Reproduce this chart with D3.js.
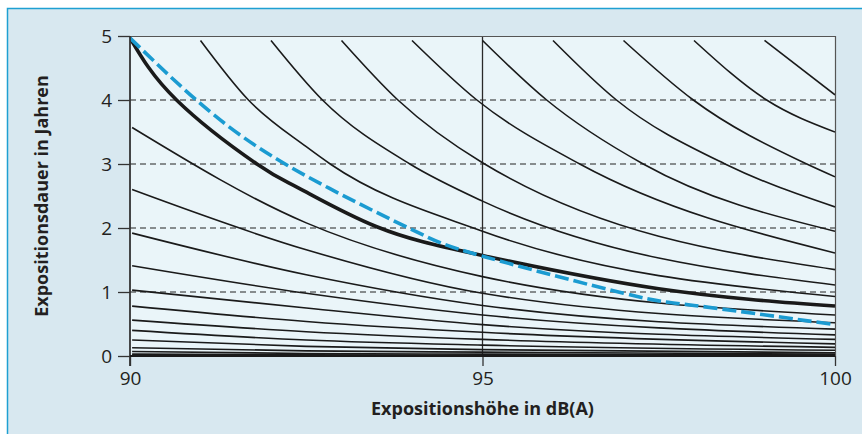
<!DOCTYPE html>
<html>
<head>
<meta charset="utf-8">
<script src="https://cdn.jsdelivr.net/npm/d3@7"></script>
<style>
  body { margin: 0; background: #fff; }
  text { font-family: "Open Sans", "Noto Sans", sans-serif; fill: #231f20; }
  .axis text { font-size: 19px; }
  .axis-title { font-size: 18px; font-weight: bold; }
</style>
</head>
<body>
<div id="chart"></div>
<script>
// x: Expositionshöhe in dB(A), y: Expositionsdauer in Jahren
var x_ticks = [90, 95, 100];
var y_ticks = [0, 1, 2, 3, 4, 5];
var grid_values = [1, 2, 3, 4];

// thick reference curve as [dB, Jahre]
var thick_curve = [[90, 4.97], [90.66, 4], [91.8, 3], [92.4, 2.62], [93.5, 2.02], [95, 1.57], [97.5, 1.05], [100, 0.78]];

// dashed blue curve
var blue_curve = [[90, 4.97], [90.94, 4], [92.2, 3], [93.95, 2], [95, 1.56], [97, 0.98], [98, 0.79], [100, 0.49]];

// thin curves that start at the top edge
var upper_curves = [
  [[91, 4.93], [91.68, 4], [92.5, 3.27], [92.84, 3], [95, 1.95], [100, 0.93]],
  [[92, 4.93], [92.73, 4], [93.97, 3], [95, 2.42], [100, 1.11]],
  [[93, 4.93], [93.8, 4], [95, 3.02], [100, 1.35]],
  [[94, 4.93], [94.92, 4], [96.38, 3], [100, 1.61]],
  [[95, 4.93], [95.91, 4], [97.28, 3], [100, 1.95]],
  [[96, 4.93], [96.9, 4], [98.44, 3], [100, 2.33]],
  [[97, 4.93], [97.99, 4], [99.6, 3], [100, 2.80]],
  [[98, 4.93], [99.03, 4], [100, 3.50]],
  [[99, 4.93], [100, 4.08]]
];

// thin curves that start at the left edge, values at 90 / 92.5 / 95 / 100 dB
var lower_levels = [90.03, 92.5, 95, 100];
var lower_curves = [
  [3.57, 2.08, 1.24, 0.64],
  [2.60, 1.66, 0.98, 0.52],
  [1.92, 1.27, 0.79, 0.42],
  [1.41, 0.98, 0.64, 0.33],
  [1.03, 0.75, 0.49, 0.26],
  [0.78, 0.54, 0.37, 0.19],
  [0.56, 0.38, 0.26, 0.135],
  [0.40, 0.25, 0.17, 0.09],
  [0.25, 0.15, 0.10, 0.05],
  [0.13, 0.08, 0.06, 0.03],
  [0.07, 0.04, 0.03, 0.015],
  [0.03, 0.02, 0.015, 0.008],
  [0.01, 0.005, 0.005, 0.003]
];

var vars = {};
vars.width = 862;
vars.height = 434;
vars.plot = { left: 130, right: 835, top: 36, bottom: 356 };

var svg = d3.select("#chart").append("svg")
  .attr("width", vars.width)
  .attr("height", vars.height);

// panel background with cyan border top and left
svg.append("rect")
  .attr("x", 7).attr("y", 8)
  .attr("width", vars.width - 7).attr("height", vars.height - 8)
  .attr("fill", "#d8e8f0");
svg.append("path")
  .attr("d", "M7.5," + vars.height + "V8.5H" + vars.width)
  .attr("fill", "none")
  .attr("stroke", "#1ea0d2")
  .attr("stroke-width", 1.5);

var x = d3.scaleLinear().domain([90, 100]).range([vars.plot.left, vars.plot.right]);
var y = d3.scaleLinear().domain([0, 5]).range([vars.plot.bottom, vars.plot.top]);

svg.append("rect")
  .attr("x", vars.plot.left).attr("y", vars.plot.top)
  .attr("width", vars.plot.right - vars.plot.left)
  .attr("height", vars.plot.bottom - vars.plot.top)
  .attr("fill", "#eaf5f9");

svg.append("clipPath").attr("id", "clip")
  .append("rect")
  .attr("x", vars.plot.left).attr("y", vars.plot.top)
  .attr("width", vars.plot.right - vars.plot.left)
  .attr("height", vars.plot.bottom - vars.plot.top);

// dashed gridlines
svg.append("g").selectAll("line")
  .data(grid_values)
  .enter().append("line")
  .attr("x1", x(90)).attr("x2", x(100))
  .attr("y1", function(d) { return y(d); })
  .attr("y2", function(d) { return y(d); })
  .attr("stroke", "#222")
  .attr("stroke-width", 1)
  .attr("stroke-dasharray", "6,4");

// vertical line at 95 dB
svg.append("line")
  .attr("x1", x(95)).attr("x2", x(95))
  .attr("y1", y(5)).attr("y2", y(0))
  .attr("stroke", "#2a2a2a").attr("stroke-width", 1.3);

// frame top and right
svg.append("path")
  .attr("d", "M" + x(90) + "," + (y(5) + 0.5) + "H" + (x(100) + 0.5) + "V" + y(0))
  .attr("fill", "none")
  .attr("stroke", "#555").attr("stroke-width", 1.2);

// thin curves: monotone keeps them from wobbling between sparse points
var thin_line = d3.line()
  .x(function(d) { return x(d[0]); })
  .y(function(d) { return y(d[1]); })
  .curve(d3.curveMonotoneX);

var smooth_line = d3.line()
  .x(function(d) { return x(d[0]); })
  .y(function(d) { return y(d[1]); })
  .curve(d3.curveNatural);

var curves_g = svg.append("g").attr("clip-path", "url(#clip)");

var lower_points = lower_curves.map(function(vals) {
  return vals.map(function(v, i) { return [lower_levels[i], v]; });
});

curves_g.selectAll("path.thin")
  .data(upper_curves.concat(lower_points))
  .enter().append("path")
  .attr("class", "thin")
  .attr("d", thin_line)
  .attr("fill", "none")
  .attr("stroke", "#1a1a1a")
  .attr("stroke-width", 1.6);

curves_g.append("path")
  .datum(thick_curve)
  .attr("d", smooth_line)
  .attr("fill", "none")
  .attr("stroke", "#1a1a1a")
  .attr("stroke-width", 3.6);

curves_g.append("path")
  .datum(blue_curve)
  .attr("d", smooth_line)
  .attr("fill", "none")
  .attr("stroke", "#1b9bd1")
  .attr("stroke-width", 3.6)
  .attr("stroke-dasharray", "14,5");

// axes
svg.append("g")
  .attr("class", "axis")
  .attr("transform", "translate(" + vars.plot.left + ",0)")
  .call(d3.axisLeft(y).tickValues(y_ticks).tickFormat(d3.format("d")).tickSize(12).tickPadding(6));

svg.append("g")
  .attr("class", "axis")
  .attr("transform", "translate(0," + vars.plot.bottom + ")")
  .call(d3.axisBottom(x).tickValues(x_ticks).tickFormat(d3.format("d")).tickSize(10).tickPadding(6));

svg.selectAll(".axis .domain").remove();
svg.selectAll(".axis line").attr("stroke", "#333").attr("stroke-width", 1.3);

svg.append("line")
  .attr("x1", vars.plot.left).attr("x2", vars.plot.left)
  .attr("y1", y(5)).attr("y2", y(0) + 10)
  .attr("stroke", "#333").attr("stroke-width", 1.8);
svg.append("line")
  .attr("x1", vars.plot.left).attr("x2", vars.plot.right)
  .attr("y1", y(0)).attr("y2", y(0))
  .attr("stroke", "#1a1a1a").attr("stroke-width", 2.2);

svg.append("text")
  .attr("class", "axis-title")
  .attr("x", x(95)).attr("y", 415)
  .attr("text-anchor", "middle")
  .text("Expositionshöhe in dB(A)");

svg.append("text")
  .attr("class", "axis-title")
  .attr("transform", "translate(48," + ((vars.plot.top + vars.plot.bottom) / 2) + ") rotate(-90)")
  .attr("text-anchor", "middle")
  .text("Expositionsdauer in Jahren");
</script>
</body>
</html>
